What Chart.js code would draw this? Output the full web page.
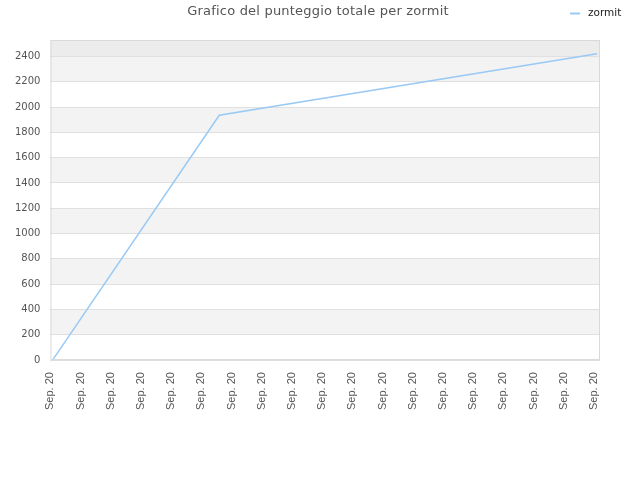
<!DOCTYPE html>
<html>
<head>
<meta charset="utf-8">
<script src="https://cdn.jsdelivr.net/npm/chart.js@4.4.0/dist/chart.umd.min.js"></script>
<style>
  html, body { margin: 0; padding: 0; background: #fff; }
  #wrap { width: 640px; height: 480px; }
</style>
</head>
<body>
<div id="wrap"><canvas id="chart"></canvas></div>
<script>
const tickLabels = ['Sep. 20', 'Sep. 20', 'Sep. 20', 'Sep. 20', 'Sep. 20', 'Sep. 20', 'Sep. 20',
  'Sep. 20', 'Sep. 20', 'Sep. 20', 'Sep. 20', 'Sep. 20', 'Sep. 20', 'Sep. 20', 'Sep. 20',
  'Sep. 20', 'Sep. 20', 'Sep. 20', 'Sep. 20']
const pointPos = [0.07, 5.59, 18.1]
const scores = [0, 1935, 2422]
const seriesName = 'zormit'
const titleText = 'Grafico del punteggio totale per zormit'
const lineColor = '#99c9f5'

// alternating grey bands behind the plot, frame, title and legend
const bandPlugin = {
  id: 'bands',
  beforeDraw(chart) {
    const { ctx, chartArea: a, scales: { y } } = chart
    ctx.save()
    for (let v = 200; v < 2400; v += 400) {
      const top = y.getPixelForValue(v + 200)
      const bot = y.getPixelForValue(v)
      ctx.fillStyle = '#f3f3f3'
      ctx.fillRect(a.left, top, a.right - a.left, bot - top)
    }
    const t = y.getPixelForValue(2400)
    ctx.fillStyle = '#ececec'
    ctx.fillRect(a.left, a.top, a.right - a.left, t - a.top)
    ctx.restore()
  },
  afterDraw(chart) {
    const { ctx, chartArea: a } = chart
    ctx.save()
    ctx.strokeStyle = '#d9d9d9'
    ctx.lineWidth = 1
    ctx.strokeRect(a.left + 0.5, a.top + 0.5, a.right - a.left - 1, a.bottom - a.top - 1)
    ctx.fillStyle = '#555'
    ctx.font = '13px "DejaVu Sans", sans-serif'
    ctx.letterSpacing = '0.2px'
    ctx.textAlign = 'center'
    ctx.textBaseline = 'middle'
    ctx.fillText(titleText, 318, 12)
    ctx.letterSpacing = '0px'
    // legend
    ctx.strokeStyle = lineColor
    ctx.lineWidth = 2
    ctx.beginPath()
    ctx.moveTo(570, 13.5)
    ctx.lineTo(580, 13.5)
    ctx.stroke()
    ctx.fillStyle = '#222'
    ctx.font = '10.5px "DejaVu Sans", sans-serif'
    ctx.textAlign = 'left'
    ctx.fillText(seriesName, 588, 13)
    ctx.restore()
  }
}

const ctx = document.getElementById('chart').getContext('2d')
new Chart(ctx, {
  type: 'line',
  data: {
    datasets: [{
      label: seriesName,
      data: pointPos.map((x, i) => ({ x: x, y: scores[i] })),
      borderColor: lineColor,
      backgroundColor: lineColor,
      borderWidth: 1.5,
      pointRadius: 0,
      tension: 0
    }]
  },
  options: {
    responsive: true,
    maintainAspectRatio: false,
    animation: false,
    layout: { padding: { left: 5, right: 40, top: 40, bottom: 66 } },
    scales: {
      x: {
        type: 'linear',
        min: 0,
        max: 18.2,
        grid: { display: false },
        border: { display: false },
        ticks: {
          stepSize: 1,
          includeBounds: false,
          autoSkip: false,
          minRotation: 90,
          maxRotation: 90,
          padding: 4,
          color: '#555',
          font: { family: 'Liberation Sans', size: 11 },
          callback: (v, i) => tickLabels[i]
        }
      },
      y: {
        min: 0,
        max: 2530,
        grid: { color: '#e0e0e0', drawTicks: false },
        border: { display: false },
        ticks: {
          stepSize: 200,
          includeBounds: false,
          padding: 10,
          color: '#555',
          font: { family: 'DejaVu Sans', size: 10 },
          callback: v => String(v)
        }
      }
    },
    plugins: {
      title: { display: false },
      tooltip: { enabled: false },
      legend: { display: false }
    }
  },
  plugins: [bandPlugin]
})
</script>
</body>
</html>
